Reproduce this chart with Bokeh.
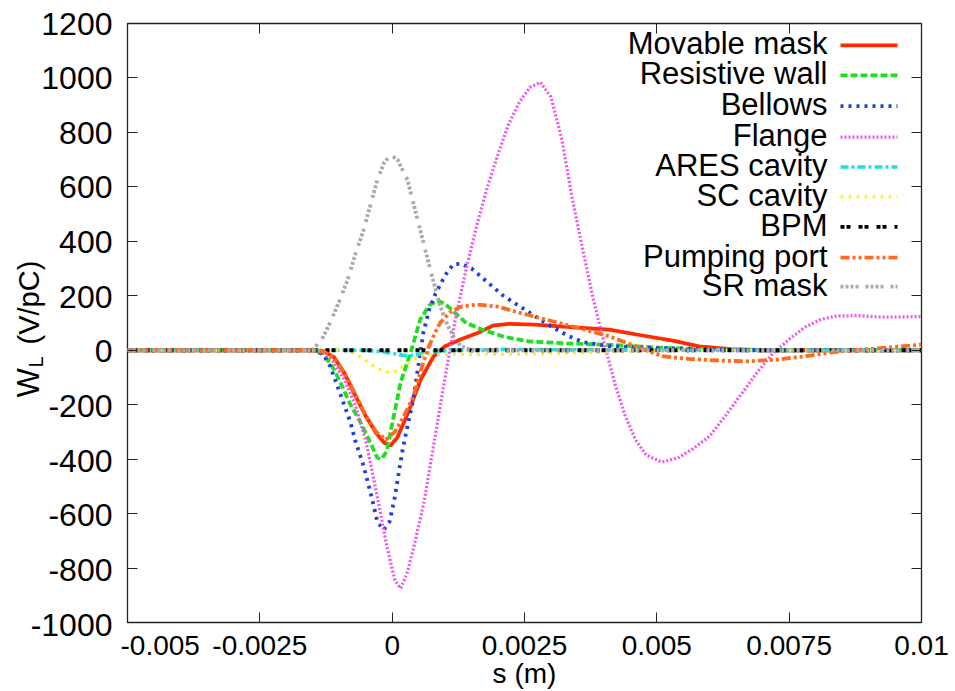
import math
from bokeh.plotting import figure
from bokeh.layouts import row
from bokeh.models import LinearAxis, FixedTicker, Label, Range1d
from bokeh.core.properties import value
from bokeh.embed import file_html
from bokeh.resources import INLINE

# ---------------- data ----------------
x_ticks = [-0.005, -0.0025, 0.0, 0.0025, 0.005, 0.0075, 0.01]
x_tick_labels = ["-0.005", "-0.0025", "0", "0.0025", "0.005", "0.0075", "0.01"]
y_ticks = [-1000, -800, -600, -400, -200, 0, 200, 400, 600, 800, 1000, 1200]
y_tick_labels = ["-1000", "-800", "-600", "-400", "-200", "0", "200", "400", "600", "800", "1000", "1200"]

movable_x = [-0.005, -0.0015, -0.0013, -0.0011, -0.0009, -0.0007, -0.0005, -0.0003, -0.00015, -0.00003,
             0.0001, 0.0003, 0.00054, 0.00078, 0.001, 0.0013, 0.0016, 0.0019, 0.0022, 0.0027, 0.0033,
             0.0041, 0.0047, 0.0053, 0.0058, 0.0064, 0.007, 0.01]
movable_y = [0, 0, -3, -25, -85, -165, -242, -305, -340, -350, -320, -230, -107, -23, 15, 40, 62, 90, 97,
             94, 86, 76, 55, 35, 14, 4, 0, 0]

resistive_x = [-0.005, -0.0015, -0.0013, -0.0011, -0.00098, -0.0008, -0.0006, -0.0004, -0.00028, -0.0002,
               -0.0001, -0.00003, 0.00016, 0.00035, 0.00053, 0.0007, 0.00086, 0.001, 0.0012, 0.0014,
               0.0017, 0.0021, 0.0026, 0.0033, 0.0041, 0.005, 0.006, 0.007, 0.01]
resistive_y = [0, 0, -12, -70, -118, -195, -264, -345, -395, -400, -370, -300, -118, -8, 113, 165, 182,
               170, 135, 100, 76, 50, 32, 25, 20, 10, 3, 0, 0]

bellows_x = [-0.005, -0.0015, -0.0013, -0.00117, -0.001, -0.00079, -0.0007, -0.00054, -0.0004, -0.00028,
             -0.00016, -0.00005, 0.00005, 0.00015, 0.00021, 0.0003, 0.0004, 0.0005, 0.00059, 0.0007,
             0.0008, 0.001, 0.00115, 0.0013, 0.0015, 0.0018, 0.0021, 0.0025, 0.0029, 0.0033, 0.0036,
             0.0041, 0.005, 0.006, 0.0065, 0.01]
bellows_y = [0, 0, -15, -59, -150, -264, -330, -425, -530, -630, -660, -630, -540, -420, -352, -270, -180,
             -50, 65, 150, 200, 275, 315, 318, 300, 250, 200, 150, 100, 55, 30, 15, 8, 4, 0, 0]

flange_x = [-0.005, -0.0015, -0.0013, -0.0011, -0.0009, -0.0007, -0.0005, -0.0003, -0.0001, 0.00005,
            0.00016, 0.00028, 0.0004, 0.0006, 0.0008, 0.001, 0.0012, 0.0014, 0.0016, 0.0018, 0.002,
            0.0022, 0.0024, 0.0026, 0.0028, 0.003, 0.0032, 0.0034, 0.0036, 0.0038, 0.004, 0.0042,
            0.0044, 0.0046, 0.0048, 0.0051, 0.0054, 0.0057, 0.006, 0.0063, 0.0066, 0.0069, 0.0072,
            0.0075, 0.0078, 0.0081, 0.0084, 0.0088, 0.0092, 0.0096, 0.01]
flange_y = [0, 0, -10, -45, -110, -200, -330, -520, -720, -845, -875, -820, -730, -560, -330, -100, 120,
            300, 460, 600, 720, 830, 910, 965, 984, 930, 780, 560, 370, 186, 30, -118, -240, -330, -385,
            -411, -395, -360, -315, -240, -160, -80, -10, 40, 85, 113, 126, 127, 122, 122, 124]

ares_x = [-0.005, -0.0005, -0.0002, 0.0001, 0.0003, 0.0005, 0.0008, 0.0012, 0.002, 0.003, 0.005, 0.01]
ares_y = [0, 0, -5, -15, -22, -15, -5, 0, 3, 2, 0, 0]

sc_x = [-0.005, -0.0009, -0.0007, -0.0005, -0.0003, -0.0001, 0.0001, 0.0003, 0.0005, 0.0008, 0.0015,
        0.0025, 0.0035, 0.0045, 0.0055, 0.01]
sc_y = [0, 0, -12, -38, -65, -80, -76, -48, -22, -15, -15, -14, -10, -5, 0, 0]

bpm_x = [-0.005, 0.0, 0.005, 0.01]
bpm_y = [0, 0, 0, 0]

pump_x = [-0.005, -0.0015, -0.0013, -0.0011, -0.0009, -0.0007, -0.0005, -0.0003, -0.00012, 0.00005,
          0.0002, 0.0004, 0.00055, 0.00067, 0.0008, 0.00091, 0.0011, 0.0013, 0.0016, 0.002, 0.0024,
          0.0028, 0.0034, 0.0041, 0.0046, 0.0051, 0.0056, 0.0062, 0.0067, 0.0073, 0.0078, 0.0083,
          0.0089, 0.0095, 0.01]
pump_y = [0, 0, -3, -30, -85, -160, -240, -300, -328, -300, -250, -170, -70, 3, 60, 102, 140, 160, 168,
          160, 138, 118, 88, 51, 15, -22, -32, -38, -41, -34, -22, -8, 3, 12, 21]

srmask_x = [-0.005, -0.0015, -0.0013, -0.00117, -0.001, -0.00084, -0.0007, -0.00054, -0.0004, -0.00028,
            -0.00015, -0.00003, 0.0001, 0.0002, 0.00029, 0.0004, 0.00053, 0.00072, 0.00091, 0.00105,
            0.00116, 0.0013, 0.0015, 0.01]
srmask_y = [0, 0, 50, 102, 180, 259, 350, 442, 540, 625, 690, 717, 700, 660, 625, 540, 442, 296, 160, 90,
            51, 15, 0, 0]

series_names = ["Movable mask", "Resistive wall", "Bellows", "Flange", "ARES cavity", "SC cavity",
                "BPM", "Pumping port", "SR mask"]
series_x = [movable_x, resistive_x, bellows_x, flange_x, ares_x, sc_x, bpm_x, pump_x, srmask_x]
series_y = [movable_y, resistive_y, bellows_y, flange_y, ares_y, sc_y, bpm_y, pump_y, srmask_y]

x_title = "s (m)"
y_title_main, y_title_sub, y_title_unit = "W", "L", "(V/pC)"

# ---------------- styles ----------------
colors = ["#ff2a00", "#22dd22", "#1f3fe0", "#ee55ee", "#22dddd", "#ffee22", "#000000", "#ff6a20", "#aaaaaa"]
dashes = ["solid", "7 3", "3 5", "2 2", "8 3 3 3", "3 5 3 5", "4 2 4 8", "9 3 3 3 3 3", "3 2 3 2 3 2 3 7"]
widths = [3.8, 3.8, 3.8, 3.2, 3.6, 3.2, 3.8, 3.8, 3.8]

XMIN, XMAX, YMIN, YMAX = -0.005, 0.01, -1000, 1200
TOTAL_W, H = 955, 691
YW = 120                      # width of the strip holding y tick labels and y title
W = TOTAL_W - YW
FL, FR, FT, FB = 127, 921, 23, 624   # frame edges in page pixels
ML, MR, MT, MB = FL - YW, TOTAL_W - FR, FT, H - FB
FW, FH = FR - FL, FB - FT

p = figure(width=W, height=H, output_backend="svg", toolbar_location=None,
           x_range=Range1d(XMIN, XMAX), y_range=Range1d(YMIN, YMAX),
           min_border_left=ML, min_border_right=MR, min_border_top=MT, min_border_bottom=MB,
           background_fill_color="white", border_fill_color="white")
p.grid.visible = False
p.outline_line_color = "#222222"
p.outline_line_width = 1.3

for ax in (p.xaxis[0], p.yaxis[0]):
    ax.major_tick_in = 10
    ax.major_tick_out = 0
    ax.minor_tick_line_color = None
    ax.axis_line_color = None
    ax.major_tick_line_color = "#222222"
    ax.major_label_text_color = "black"
    ax.major_label_text_font_style = "normal"

p.xaxis.ticker = FixedTicker(ticks=x_ticks)
p.xaxis.major_label_overrides = {t: s for t, s in zip(x_ticks, x_tick_labels)}
p.xaxis.major_label_text_font = "Liberation Sans"
p.xaxis.major_label_text_font_size = "28px"
p.xaxis.major_label_standoff = 13
p.xaxis.axis_label = x_title
p.xaxis.axis_label_text_font = "Liberation Sans"
p.xaxis.axis_label_text_font_size = "28px"
p.xaxis.axis_label_text_font_style = "normal"
p.xaxis.axis_label_text_color = "black"
p.xaxis.axis_label_standoff = 0

# y axis: ticks only here; its labels are drawn in the left strip on the same scale
p.yaxis.ticker = FixedTicker(ticks=y_ticks)
p.yaxis.major_label_text_font_size = "0px"
p.yaxis.major_label_standoff = 0

# mirrored ticks on top and right
top = LinearAxis(ticker=FixedTicker(ticks=x_ticks), major_tick_in=10, major_tick_out=0,
                 minor_tick_line_color=None, axis_line_color=None, major_label_text_font_size="0px",
                 major_label_standoff=0, major_tick_line_color="#222222")
right = LinearAxis(ticker=FixedTicker(ticks=y_ticks), major_tick_in=10, major_tick_out=0,
                   minor_tick_line_color=None, axis_line_color=None, major_label_text_font_size="0px",
                   major_label_standoff=0, major_tick_line_color="#222222")
p.add_layout(top, "above")
p.add_layout(right, "right")

for xs, ys, c, d, w in zip(series_x, series_y, colors, dashes, widths):
    p.line(xs, ys, line_color=c, line_dash=d, line_width=w)

# ---------------- key (gnuplot style: text then sample) ----------------
def px2x(px):
    return XMIN + (px - FL) / FW * (XMAX - XMIN)

def py2y(py):
    return YMAX - (py - FT) / FH * (YMAX - YMIN)

key_rows = [45, 75, 106, 137, 167, 197, 227, 258, 287]
for name, c, d, w, ry in zip(series_names, colors, dashes, widths, key_rows):
    p.line([px2x(840), px2x(897)], [py2y(ry), py2y(ry)], line_color=c, line_dash=d, line_width=w)
    p.add_layout(Label(x=827 - FL, y=FB - ry, x_units="screen", y_units="screen", text=name,
                       text_align="right", text_baseline="middle", text_font="Liberation Sans",
                       text_font_size="31px", text_color="black"))

# ---------------- left strip: y tick labels and y title on the same vertical scale ----------------
k = (YMAX - YMIN) / FH
ystrip = figure(width=YW, height=H, output_backend="svg", toolbar_location=None,
                x_range=Range1d(0, YW), y_range=Range1d(YMIN - MB * k, YMAX + MT * k),
                min_border_left=0, min_border_right=0, min_border_top=0, min_border_bottom=0,
                x_axis_location=None, y_axis_location=None,
                background_fill_color="white", border_fill_color="white")
if "frame_align" in ystrip.properties():
    ystrip.frame_align = False
ystrip.grid.visible = False
ystrip.outline_line_color = None
ystrip.text(x=[FL - 15] * len(y_ticks), y=y_ticks, text=y_tick_labels, text_align="right",
            text_baseline="middle", text_font=value("Liberation Sans"), text_font_size="32px",
            text_color="black")
ystrip.text(x=[28], y=[py2y(397)], text=[y_title_main], angle=math.pi / 2, text_align="left",
            text_baseline="middle", text_font=value("Liberation Sans"), text_font_size="31px",
            text_color="black")
ystrip.text(x=[35], y=[py2y(367)], text=[y_title_sub], angle=math.pi / 2, text_align="left",
            text_baseline="middle", text_font=value("Liberation Sans"), text_font_size="20px",
            text_color="black")
ystrip.text(x=[28], y=[py2y(344)], text=[y_title_unit], angle=math.pi / 2, text_align="left",
            text_baseline="middle", text_font=value("Liberation Sans"), text_font_size="29px",
            text_color="black")

layout = row(ystrip, p)
open("out.html", "w").write(file_html(layout, INLINE))
